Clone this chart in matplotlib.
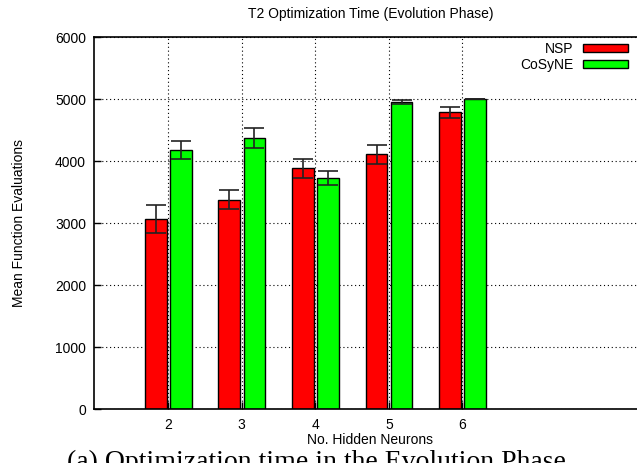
import numpy as np
import matplotlib.pyplot as plt
from matplotlib.patches import Rectangle

plt.rcParams['font.family'] = ['Liberation Sans', 'DejaVu Sans']

# values
neurons = [2, 3, 4, 5, 6]
nsp_mean = [3065, 3380, 3887, 4113, 4790]
nsp_err = [228, 157, 155, 155, 93]
cosyne_mean = [4180, 4376, 3726, 4950, 5000]
cosyne_err = [148, 160, 113, 33, 0]

red = '#ff0000'
green = '#00ff00'

fig = plt.figure(figsize=(6.37, 4.63), dpi=100)
ax = fig.add_axes([0.148, 0.116, 0.867, 0.8035])

x = np.array(neurons, dtype=float)
w = 0.295
ax.bar(x - 0.166, nsp_mean, width=w, color=red, edgecolor='black', linewidth=1.0, zorder=2)
ax.bar(x + 0.174, cosyne_mean, width=w, color=green, edgecolor='black', linewidth=1.0, zorder=2)
ax.errorbar(x - 0.166, nsp_mean, yerr=nsp_err, fmt='none', ecolor='#222222',
            elinewidth=1.2, capsize=7.5, capthick=1.2, zorder=3)
ax.errorbar(x + 0.174, cosyne_mean, yerr=cosyne_err, fmt='none', ecolor='#222222',
            elinewidth=1.2, capsize=7.5, capthick=1.2, zorder=3)

ax.set_xlim(1, 8.5)
ax.set_ylim(0, 6000)
ax.set_xticks(neurons)
ax.set_yticks(range(0, 6001, 1000))
ax.tick_params(direction='in', length=5, width=1, labelsize=10, pad=6)
ax.tick_params(axis='x', pad=6)
ax.grid(True, linestyle=(0, (1, 2.5)), color='black', linewidth=0.8, zorder=0)
ax.set_axisbelow(True)
for s in ax.spines.values():
    s.set_linewidth(1.2)

ax.set_title('T2 Optimization Time (Evolution Phase)', fontsize=10, pad=14)
ax.set_xlabel('No. Hidden Neurons', fontsize=10, labelpad=1)
ax.set_ylabel('Mean Function Evaluations', fontsize=10, labelpad=21)

handles = [Rectangle((0, 0), 1, 1, facecolor=red, edgecolor='black', linewidth=1),
           Rectangle((0, 0), 1, 1, facecolor=green, edgecolor='black', linewidth=1)]
fig.legend(handles, ['NSP', 'CoSyNE'], loc='upper right', bbox_to_anchor=(627.5 / 637, 1 - 42 / 463),
           bbox_transform=fig.transFigure, frameon=False, markerfirst=False, borderpad=0,
           borderaxespad=0, handlelength=3.2, handleheight=0.55, handletextpad=0.7,
           labelspacing=0.15, fontsize=10)

# figure caption, cut off by the bottom edge as in the source
fig.text(67 / 637, 1 - 450 / 463, '(a) Optimization time in the Evolution Phase',
         family='Liberation Serif', fontsize=20, va='top', ha='left')

fig.savefig('out.png', dpi=100)
